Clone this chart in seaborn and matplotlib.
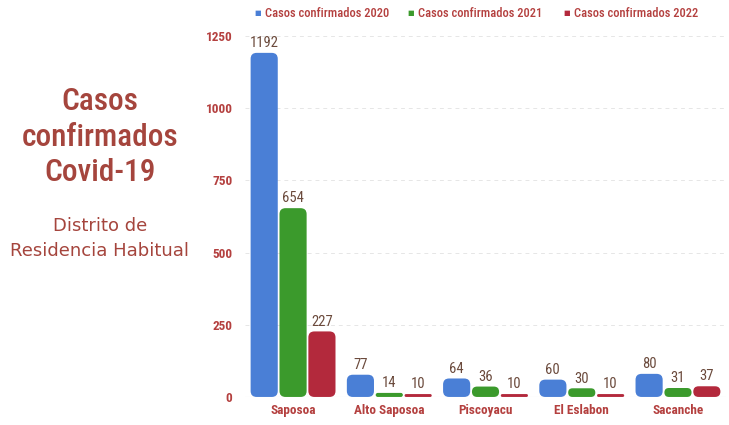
import matplotlib
matplotlib.use("Agg")
import matplotlib.pyplot as plt
from matplotlib.patches import FancyBboxPatch
import seaborn as sns
import pandas as pd

distritos = ["Saposoa", "Alto Saposoa", "Piscoyacu", "El Eslabon", "Sacanche"]
casos_2020 = [1192, 77, 64, 60, 80]
casos_2021 = [654, 14, 36, 30, 31]
casos_2022 = [227, 10, 10, 10, 37]
series = ["Casos confirmados 2020", "Casos confirmados 2021", "Casos confirmados 2022"]
colores = ["#4a7fd6", "#3b9a2c", "#b3293c"]

rows = []
for name, vals in zip(series, [casos_2020, casos_2021, casos_2022]):
    for d, v in zip(distritos, vals):
        rows.append({"distrito": d, "serie": name, "casos": v})
df = pd.DataFrame(rows)

sns.set_style("white")
narrow = ["Roboto Condensed", "Liberation Sans", "DejaVu Sans"]
plt.rcParams["font.family"] = narrow

fig = plt.figure(figsize=(7.29, 4.25), dpi=100)
ax = fig.add_axes([0.336, 0.066, 0.66, 0.849])

sns.barplot(data=df, x="distrito", y="casos", hue="serie", palette=colores,
            width=0.9, gap=0.06, ax=ax, legend=False, saturation=1)

ax.set_ylim(0, 1250)
ax.set_xlim(-0.5, 4.5)
ax.set_yticks([0, 250, 500, 750, 1000, 1250])
ax.set_xlabel("")
ax.set_ylabel("")
for s in ax.spines.values():
    s.set_visible(False)
ax.axhline(0, color="#dddddd", lw=0.8, zorder=0)
ax.yaxis.grid(True, color="#e6e6e6", ls=(0, (4, 4)), lw=0.7)
ax.set_axisbelow(True)
ax.tick_params(axis="both", length=0, labelcolor="#b4403f", labelsize=9.5)
ax.tick_params(axis="y", pad=9)
ax.tick_params(axis="x", pad=5)
for lab in ax.get_xticklabels() + ax.get_yticklabels():
    lab.set_fontweight("bold")

for cont in ax.containers:
    ax.bar_label(cont, padding=2, fontsize=10.5, color="#6b4a3c")

# rounded bars
px_x = ax.get_window_extent().width / 5.0
px_y = ax.get_window_extent().height / 1250.0
aspect = px_x / px_y
for p in list(ax.patches):
    x, y = p.get_x(), p.get_y()
    w, h = p.get_width(), p.get_height()
    r = min(6.0 / px_x, (h / aspect) / 2.0, w / 2.0)
    fb = FancyBboxPatch((x, y), w, h,
                        boxstyle=f"round,pad=0,rounding_size={r}",
                        mutation_aspect=aspect,
                        facecolor=p.get_facecolor(), edgecolor="none", zorder=3)
    p.remove()
    ax.add_patch(fb)

# legend
lx = [0.354, 0.564, 0.778]
for xx, name, c in zip(lx, series, colores):
    fig.text(xx, 0.969, "\u25a0", color=c, fontsize=5, ha="center", va="center",
             family="DejaVu Sans")
    fig.text(xx + 0.009, 0.969, name, color="#b4403f", fontsize=9,
             ha="left", va="center", fontweight="medium")

# left title
tc = "#a5453d"
fig.text(0.137, 0.762, "Casos", color=tc, fontsize=22.5, ha="center", va="center",
         fontweight="medium")
fig.text(0.137, 0.676, "confirmados", color=tc, fontsize=22.5, ha="center", va="center",
         fontweight="medium")
fig.text(0.137, 0.594, "Covid-19", color=tc, fontsize=22.5, ha="center", va="center",
         fontweight="medium")
fig.text(0.137, 0.468, "Distrito de", color=tc, fontsize=13, ha="center",
         va="center", family="DejaVu Sans", fontweight="medium")
fig.text(0.137, 0.410, "Residencia Habitual", color=tc, fontsize=13,
         ha="center", va="center", family="DejaVu Sans", fontweight="medium")

fig.savefig("out.png", dpi=100)
